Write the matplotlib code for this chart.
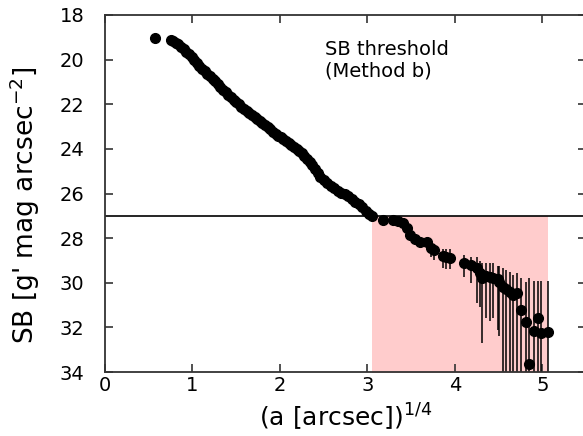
import numpy as np
import matplotlib
matplotlib.use("Agg")
import matplotlib.pyplot as plt

# surface brightness profile, x = (a [arcsec])^(1/4), y = SB [g' mag arcsec^-2]
inner_x = [0.57, 0.75, 0.78, 0.81, 0.84, 0.87, 0.90, 0.93, 0.96, 0.99,
           1.02, 1.05, 1.08, 1.11, 1.14, 1.17, 1.20, 1.23, 1.26, 1.29,
           1.32, 1.35, 1.38, 1.41, 1.44, 1.47, 1.50, 1.53, 1.56, 1.59,
           1.62, 1.65, 1.68, 1.71, 1.74, 1.77, 1.80, 1.83, 1.86, 1.89,
           1.92, 1.95, 1.98, 2.01, 2.04, 2.07, 2.10, 2.13, 2.16, 2.19,
           2.22, 2.25, 2.28, 2.31, 2.34, 2.37, 2.40, 2.43, 2.46, 2.50,
           2.54, 2.58, 2.62, 2.66, 2.70, 2.74, 2.78, 2.82, 2.86, 2.90,
           2.94, 2.98, 3.02, 3.05]
inner_sb = [19.02, 19.12, 19.18, 19.24, 19.32, 19.42, 19.53, 19.64, 19.76, 19.88,
            20.01, 20.14, 20.28, 20.40, 20.52, 20.63, 20.75, 20.86, 20.98, 21.10,
            21.22, 21.34, 21.46, 21.58, 21.69, 21.80, 21.91, 22.01, 22.11, 22.20,
            22.29, 22.37, 22.46, 22.55, 22.64, 22.73, 22.83, 22.93, 23.03, 23.13,
            23.23, 23.32, 23.41, 23.49, 23.57, 23.66, 23.74, 23.82, 23.90, 23.99,
            24.09, 24.20, 24.32, 24.44, 24.57, 24.72, 24.90, 25.08, 25.24, 25.40,
            25.54, 25.66, 25.77, 25.87, 25.96, 26.04, 26.13, 26.24, 26.36, 26.48,
            26.62, 26.78, 26.93, 27.00]

# outer part with error bars (err_lo = brighter side, err_hi = fainter side)
outer_x = [3.18, 3.29, 3.35, 3.41, 3.45, 3.49, 3.55, 3.60, 3.68, 3.73,
           3.76, 3.87, 3.90, 3.94, 4.11, 4.19, 4.25, 4.29, 4.31, 4.36,
           4.40, 4.44, 4.49, 4.51, 4.55, 4.59, 4.63, 4.67, 4.71, 4.76,
           4.81, 4.85, 4.90, 4.95, 4.99, 5.06]
outer_sb = [27.20, 27.20, 27.25, 27.33, 27.55, 27.85, 28.02, 28.17, 28.17, 28.46,
            28.55, 28.80, 28.84, 28.90, 29.10, 29.20, 29.35, 29.57, 29.80, 29.70,
            29.75, 29.80, 29.84, 29.95, 30.18, 30.30, 30.40, 30.55, 30.47, 31.20,
            31.75, 33.65, 32.17, 31.60, 32.26, 32.20]
err_lo = [0.05, 0.05, 0.05, 0.05, 0.06, 0.07, 0.08, 0.10, 0.12, 0.20,
          0.20, 0.30, 0.35, 0.40, 0.35, 0.35, 0.50, 0.55, 0.70, 0.60,
          0.65, 0.70, 0.60, 0.70, 0.83, 0.85, 0.86, 0.88, 0.89, 1.40,
          1.77, 3.85, 2.27, 1.70, 2.36, 2.30]
err_hi = [0.05, 0.05, 0.05, 0.05, 0.06, 0.07, 0.08, 0.10, 0.12, 0.40,
          0.45, 0.55, 0.55, 0.50, 0.65, 0.80, 1.55, 1.50, 2.90, 1.90,
          1.95, 1.80, 2.30, 2.45, 5.00, 5.00, 5.00, 5.00, 5.00, 5.00,
          5.00, 5.00, 5.00, 5.00, 5.00, 5.00]

sb_threshold = 27.0
x_ticks = [0, 1, 2, 3, 4, 5]
y_ticks = [18, 20, 22, 24, 26, 28, 30, 32, 34]

x_all = np.array(inner_x + outer_x)
sb_all = np.array(inner_sb + outer_sb)

fig = plt.figure(figsize=(5.83, 4.36), dpi=100)
ax = fig.add_axes([105 / 583, 64 / 436, 481 / 583, 357 / 436])

# shaded region below the threshold
faint = x_all[sb_all >= sb_threshold]
ax.fill_between([faint.min(), faint.max()], sb_threshold, 40,
                color="#ffcccc", lw=0, zorder=0)
ax.axhline(sb_threshold, color="k", lw=1.2, zorder=1)

ax.errorbar(outer_x, outer_sb, yerr=[err_lo, err_hi], fmt="none",
            ecolor="k", elinewidth=1.1, zorder=2)
ax.plot(x_all, sb_all, "o", color="k", ms=7, zorder=3)

ax.text(2.51, 19.12, "SB threshold\n(Method b)", fontsize=14,
        ha="left", va="top", linespacing=1.15)

ax.set_xlim(0, 5.5)
ax.set_ylim(34, 18)
ax.set_xticks(x_ticks)
ax.set_yticks(y_ticks)
ax.tick_params(direction="in", top=True, right=True, length=6, width=1.2,
               color="#333333", labelsize=14)
ax.tick_params(axis="y", pad=15)
ax.tick_params(axis="x", pad=3)
for s in ax.spines.values():
    s.set_color("#333333")
    s.set_linewidth(1.3)

ax.set_xlabel(r"(a [arcsec])$^{1/4}$", fontsize=18)
ax.set_ylabel(r"SB [g' mag arcsec$^{-2}$]", fontsize=19)
ax.xaxis.set_label_coords(0.5, -0.085)
ax.yaxis.set_label_coords(-0.13, 0.466)

fig.savefig("out.png", dpi=100)
